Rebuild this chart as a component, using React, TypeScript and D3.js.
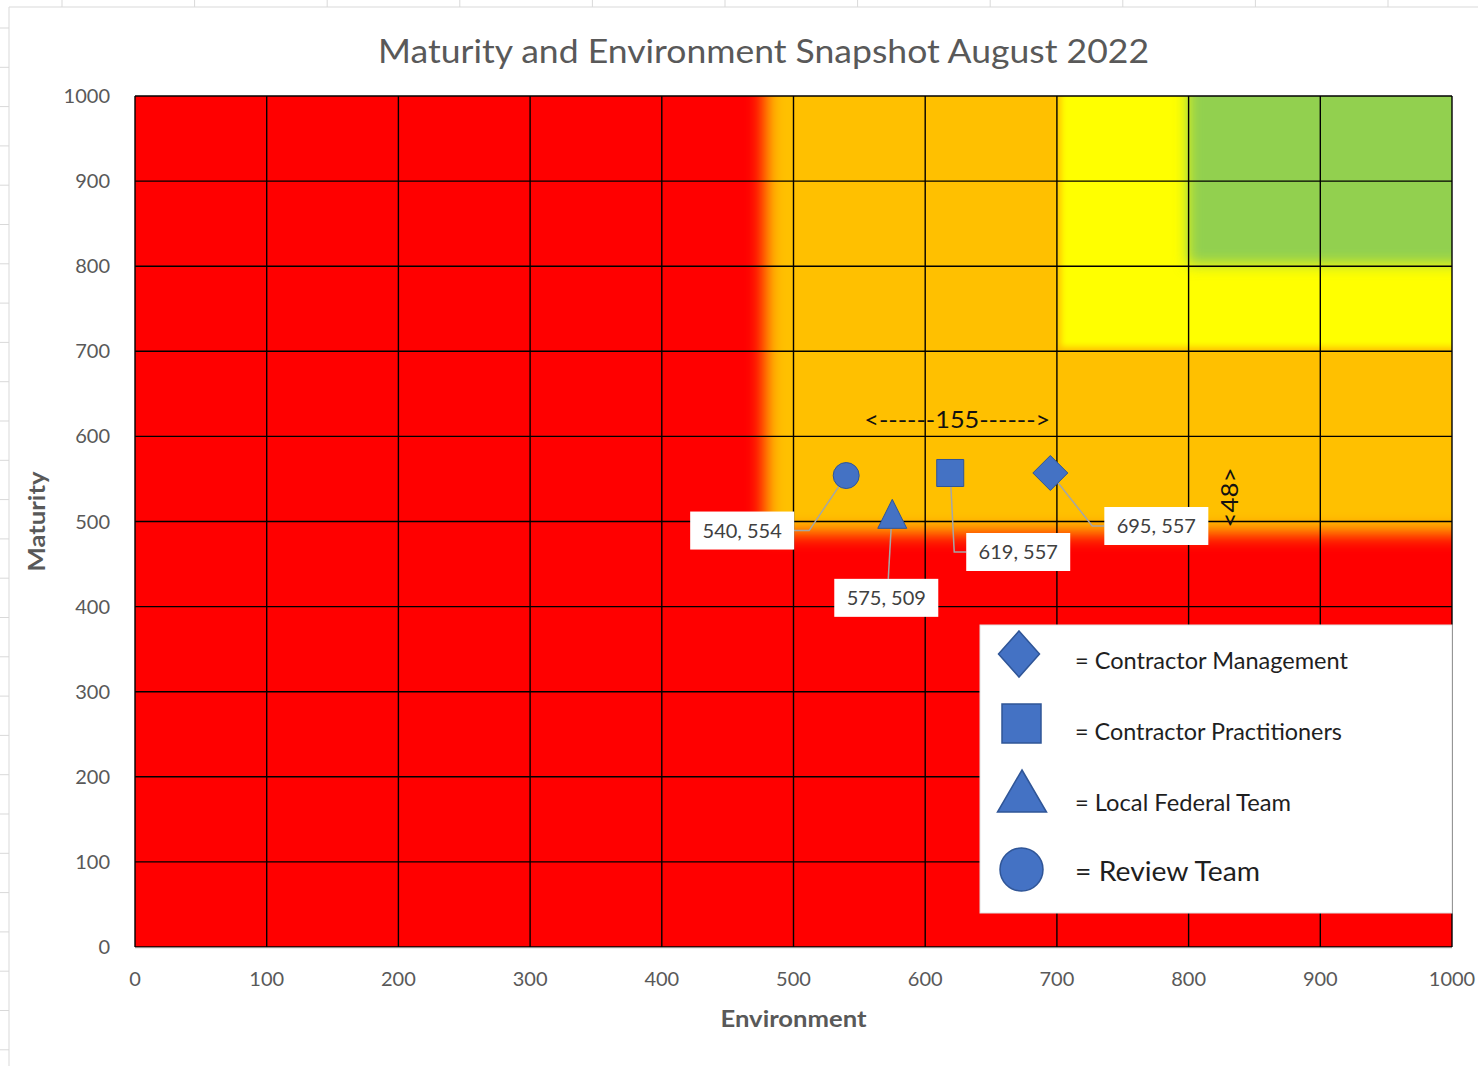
import React from 'react';
import * as d3 from 'd3';

// ---------- data ----------
const xTicks = [0, 100, 200, 300, 400, 500, 600, 700, 800, 900, 1000];
const yTicks = [0, 100, 200, 300, 400, 500, 600, 700, 800, 900, 1000];

const seriesNames = ['Contractor Management', 'Contractor Practitioners', 'Local Federal Team', 'Review Team'];
const seriesShapes = ['diamond', 'square', 'triangle', 'circle'];
const environmentValues = [695, 619, 575, 540];
const maturityValues = [557, 557, 509, 554];

// background zones (lower-left corner in data units, extending to top-right)
const zoneX0 = [478, 703, 799];
const zoneY0 = [486, 705, 802];
const zoneColors = ['#FFC000', '#FFFF00', '#92D050'];

const titleText = 'Maturity and Environment Snapshot August 2022';
const xTitle = 'Environment';
const yTitle = 'Maturity';

// ---------- layout ----------
const W = 1478;
const H = 1066;
const plot = { left: 135, right: 1452, top: 96, bottom: 947 };
const zoneBlur = [9, 3, 7];
const markerColor = '#4472C4';
const markerStroke = '#2F5597';
const font = "Lato, 'Open Sans', 'DejaVu Sans', sans-serif";

// marker sizes (pixels) in plot and legend
const plotSize: Record<string, number[]> = {
  diamond: [35, 35],
  square: [27, 27],
  triangle: [29, 29],
  circle: [26, 26],
};
const legendSize: Record<string, number[]> = {
  diamond: [41, 46],
  square: [39, 39],
  triangle: [49, 42],
  circle: [43, 43],
};

// data label layout: box centre offset from the marker, leader side
const labelLayout = [
  { dx: 106, dy: 53, side: 'left' },
  { dx: 68, dy: 79, side: 'left' },
  { dx: -6, dy: 84, side: 'top' },
  { dx: -104, dy: 55, side: 'right' },
];
const boxW = 104;
const boxH = 38;

const legendBox = { x: 980, y: 625, w: 472, h: 288 };
const legendRows = [
  { cx: 1019, cy: 654, tx: 1075, ty: 669, fs: 23, tl: 273 },
  { cx: 1021.5, cy: 723.5, tx: 1075, ty: 740, fs: 23, tl: 267 },
  { cx: 1022, cy: 791, tx: 1075, ty: 811, fs: 23, tl: 216 },
  { cx: 1021.5, cy: 869.5, tx: 1075, ty: 881, fs: 26, tl: 185 },
];

function shapePath(shape: string, w: number, h: number): string {
  switch (shape) {
    case 'diamond':
      return `M0,${-h / 2}L${w / 2},0L0,${h / 2}L${-w / 2},0Z`;
    case 'square':
      return `M${-w / 2},${-h / 2}H${w / 2}V${h / 2}H${-w / 2}Z`;
    case 'triangle':
      return `M0,${-h / 2}L${w / 2},${h / 2}L${-w / 2},${h / 2}Z`;
    default:
      return d3.symbol(d3.symbolCircle, (Math.PI * w * w) / 4)() as string;
  }
}

export default function App() {
  const x = d3.scaleLinear().domain([0, 1000]).range([plot.left, plot.right]);
  const y = d3.scaleLinear().domain([0, 1000]).range([plot.bottom, plot.top]);

  const topTicks = d3.range(62, W, 132.6);
  const leftTicks = d3.range(28, H, 39.3);

  const span = d3.max(environmentValues)! - d3.min(environmentValues)!;
  const gap = d3.max(maturityValues)! - d3.min(maturityValues)!;

  return (
    <svg
      width={W}
      height={H}
      viewBox={`0 0 ${W} ${H}`}
      style={{ position: 'absolute', left: 0, top: 0, display: 'block', background: '#fff' }}
      fontFamily={font}
    >
      <defs>
        <clipPath id="plotClip">
          <rect x={plot.left} y={plot.top} width={plot.right - plot.left} height={plot.bottom - plot.top} />
        </clipPath>
        {zoneBlur.map((b, i) => (
          <filter key={i} id={`blur${i}`} filterUnits="userSpaceOnUse" x={-200} y={-200} width={W + 400} height={H + 400}>
            <feGaussianBlur stdDeviation={b} />
          </filter>
        ))}
      </defs>

      {/* faint spreadsheet frame */}
      <g stroke="#D9D9D9" strokeWidth={1}>
        <line x1={9} y1={7} x2={W} y2={7} />
        <line x1={9} y1={7} x2={9} y2={H} />
        {topTicks.map((t, i) => (
          <line key={`tt${i}`} x1={t} x2={t} y1={0} y2={7} />
        ))}
        {leftTicks.map((t, i) => (
          <line key={`lt${i}`} x1={0} x2={9} y1={t} y2={t} />
        ))}
      </g>

      {/* title */}
      <text x={763.5} y={63} textAnchor="middle" fontSize={32} fill="#595959" textLength={771} lengthAdjust="spacingAndGlyphs">
        {titleText}
      </text>

      {/* plot background zones */}
      <g clipPath="url(#plotClip)">
        <rect x={plot.left} y={plot.top} width={plot.right - plot.left} height={plot.bottom - plot.top} fill="#FF0000" />
        {zoneColors.map((c, i) => (
          <rect
            key={i}
            x={x(zoneX0[i])}
            y={y(1100)}
            width={x(1100) - x(zoneX0[i])}
            height={y(zoneY0[i]) - y(1100)}
            fill={c}
            filter={`url(#blur${i})`}
          />
        ))}
      </g>

      {/* gridlines */}
      <g stroke="#000" strokeWidth={1.4}>
        {xTicks.map((t) => (
          <line key={`gx${t}`} x1={x(t)} x2={x(t)} y1={plot.top} y2={plot.bottom} />
        ))}
        {yTicks.map((t) => (
          <line key={`gy${t}`} x1={plot.left} x2={plot.right} y1={y(t)} y2={y(t)} />
        ))}
      </g>
      <line x1={plot.left} x2={plot.right} y1={plot.bottom + 1} y2={plot.bottom + 1} stroke="#D9D9D9" strokeWidth={1} />

      {/* tick labels */}
      <g fontSize={20} fill="#595959">
        {yTicks.map((t) => (
          <text key={`ly${t}`} x={110} y={y(t)} dy="0.35em" textAnchor="end">
            {t}
          </text>
        ))}
        {xTicks.map((t) => (
          <text key={`lx${t}`} x={x(t)} y={986} textAnchor="middle">
            {t}
          </text>
        ))}
      </g>

      {/* axis titles */}
      <text x={x(500)} y={1027} textAnchor="middle" fontSize={22} fontWeight="bold" fill="#595959" textLength={146} lengthAdjust="spacingAndGlyphs">
        {xTitle}
      </text>
      <text
        transform={`translate(45, ${y(500)}) rotate(-90)`}
        textAnchor="middle"
        fontSize={22}
        fontWeight="bold"
        fill="#595959"
        textLength={100}
        lengthAdjust="spacingAndGlyphs"
      >
        {yTitle}
      </text>

      {/* legend */}
      <rect x={legendBox.x} y={legendBox.y} width={legendBox.w} height={legendBox.h} fill="#fff" stroke="#E0E0E0" strokeWidth={1} />
      {seriesNames.map((name, i) => {
        const r = legendRows[i];
        const s = legendSize[seriesShapes[i]];
        return (
          <g key={`leg${i}`}>
            <path
              d={shapePath(seriesShapes[i], s[0], s[1])}
              transform={`translate(${r.cx},${r.cy})`}
              fill={markerColor}
              stroke={markerStroke}
              strokeWidth={1.5}
            />
            <text x={r.tx} y={r.ty} fontSize={r.fs} fill="#1F1F1F" textLength={r.tl} lengthAdjust="spacingAndGlyphs">
              {`= ${name}`}
            </text>
          </g>
        );
      })}

      {/* leader lines */}
      <g stroke="#A6A6A6" strokeWidth={1.5} fill="none">
        {environmentValues.map((v, i) => {
          const px = x(v);
          const py = y(maturityValues[i]);
          const L = labelLayout[i];
          const bx = px + L.dx;
          const by = py + L.dy;
          let pts: [number, number][];
          if (L.side === 'left') {
            const ex = bx - boxW / 2;
            pts = [[px, py], [ex - 12, by], [ex, by]];
          } else if (L.side === 'right') {
            const ex = bx + boxW / 2;
            pts = [[px, py], [ex + 15, by], [ex, by]];
          } else {
            pts = [[px, py - 6], [bx + 2, by - boxH / 2]];
          }
          return <path key={`ld${i}`} d={d3.line()(pts) as string} />;
        })}
      </g>

      {/* markers */}
      {environmentValues.map((v, i) => {
        const s = plotSize[seriesShapes[i]];
        return (
          <path
            key={`m${i}`}
            d={shapePath(seriesShapes[i], s[0], s[1])}
            transform={`translate(${x(v)},${y(maturityValues[i])})`}
            fill={markerColor}
            stroke={markerStroke}
            strokeWidth={1}
          />
        );
      })}

      {/* data labels */}
      {environmentValues.map((v, i) => {
        const px = x(v);
        const py = y(maturityValues[i]);
        const L = labelLayout[i];
        const bx = px + L.dx;
        const by = py + L.dy;
        return (
          <g key={`dl${i}`}>
            <rect x={bx - boxW / 2} y={by - boxH / 2} width={boxW} height={boxH} fill="#fff" />
            <text x={bx} y={by} dy="0.36em" textAnchor="middle" fontSize={20} fill="#404040">
              {`${v}, ${maturityValues[i]}`}
            </text>
          </g>
        );
      })}

      {/* span annotations */}
      <text
        x={x((d3.min(environmentValues)! + d3.max(environmentValues)!) / 2) + 9}
        y={428}
        textAnchor="middle"
        fontSize={24}
        fill="#111"
        textLength={186}
        lengthAdjust="spacingAndGlyphs"
      >
        {`<------${span}------>`}
      </text>
      <text
        transform={`translate(1238, ${y((d3.min(maturityValues)! + d3.max(maturityValues)!) / 2) + 4}) rotate(-90)`}
        textAnchor="middle"
        fontSize={23}
        fill="#111"
        textLength={60}
        lengthAdjust="spacingAndGlyphs"
      >
        {`<${gap}>`}
      </text>
    </svg>
  );
}
